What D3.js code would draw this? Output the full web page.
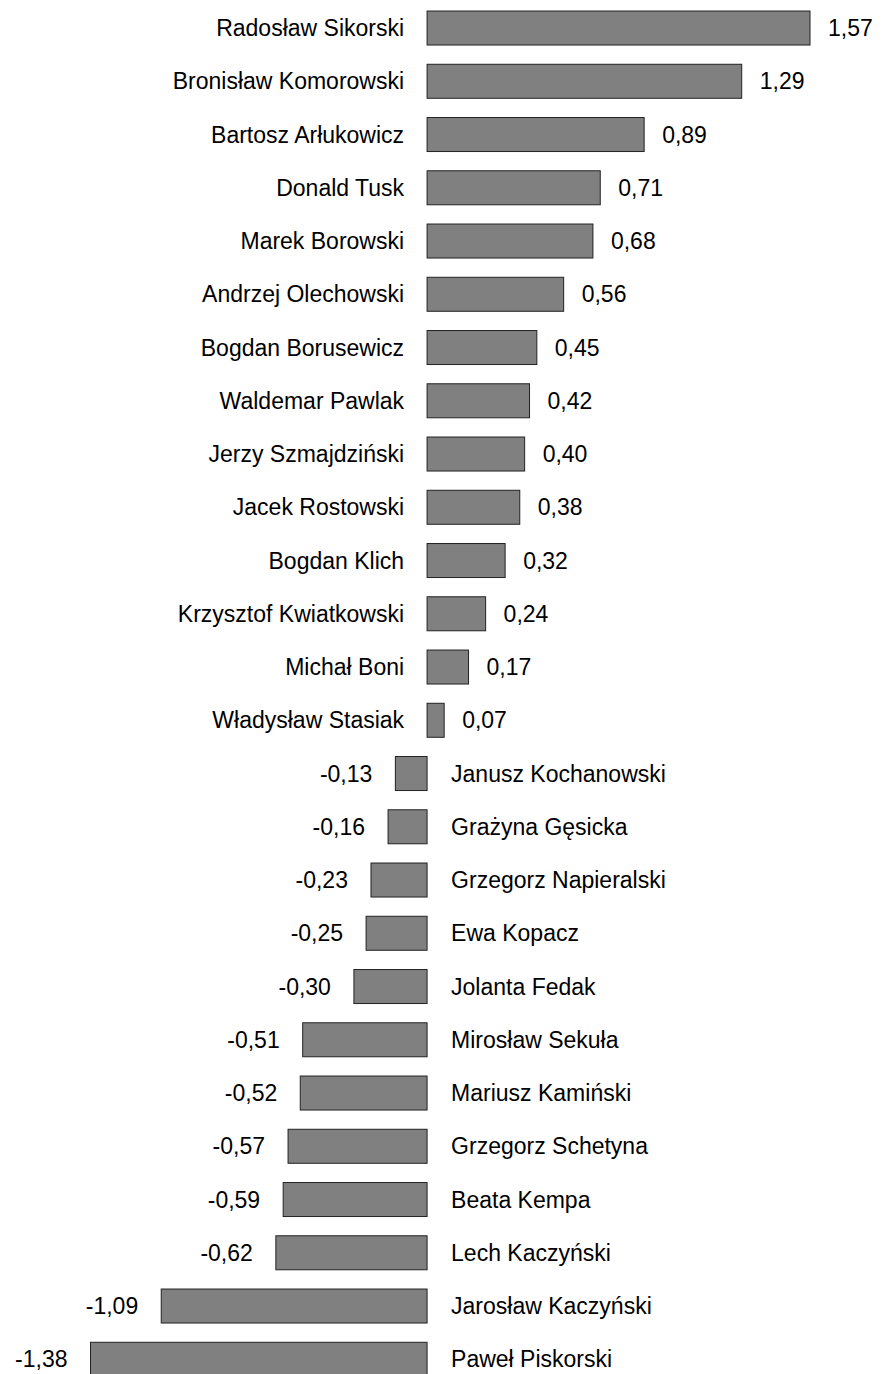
<!DOCTYPE html>
<html>
<head>
<meta charset="utf-8">
<script src="https://cdn.jsdelivr.net/npm/d3@7"></script>
<style>
    html, body { margin: 0; padding: 0; background: #ffffff; }
    svg { display: block; }
</style>
</head>
<body>
<div id="chart"></div>
<script>

let names = [
    "Radosław Sikorski", "Bronisław Komorowski", "Bartosz Arłukowicz", "Donald Tusk",
    "Marek Borowski", "Andrzej Olechowski", "Bogdan Borusewicz", "Waldemar Pawlak",
    "Jerzy Szmajdziński", "Jacek Rostowski", "Bogdan Klich", "Krzysztof Kwiatkowski",
    "Michał Boni", "Władysław Stasiak", "Janusz Kochanowski", "Grażyna Gęsicka",
    "Grzegorz Napieralski", "Ewa Kopacz", "Jolanta Fedak", "Mirosław Sekuła",
    "Mariusz Kamiński", "Grzegorz Schetyna", "Beata Kempa", "Lech Kaczyński",
    "Jarosław Kaczyński", "Paweł Piskorski"
];

let values = [
    1.57, 1.29, 0.89, 0.71, 0.68, 0.56, 0.45, 0.42, 0.40, 0.38, 0.32, 0.24, 0.17, 0.07,
    -0.13, -0.16, -0.23, -0.25, -0.30, -0.51, -0.52, -0.57, -0.59, -0.62, -1.09, -1.38
];

function renderChart() {

    let width = 882;
    let height = 1374;
    let step = 53.25;
    let fontSize = 23;
    let fontFamily = "'Liberation Sans', Arial, sans-serif";

    let rows = names.map((name, i) => ({ name, value: values[i] }));

    let x = d3.scaleLinear()
        .domain([d3.min(values), d3.max(values)])
        .range([90.5, 810]);

    let y = d3.scaleBand()
        .domain(names)
        .range([1.4, 1.4 + names.length * step])
        .paddingInner(0.3615)
        .paddingOuter(0.3615 / 2);

    let fmt = v => d3.format(".2f")(v).replace(".", ",").replace("−", "-");

    let svg = d3.select("#chart").append("svg")
        .attr("width", width)
        .attr("height", height);

    let rowsG = svg.append("g")
        .selectAll("g")
        .data(rows)
        .join("g");

    rowsG.append("rect")
        .attr("x", d => x(Math.min(0, d.value)))
        .attr("y", d => y(d.name))
        .attr("width", d => Math.abs(x(d.value) - x(0)))
        .attr("height", y.bandwidth())
        .attr("fill", "#808080")
        .attr("stroke", "#222")
        .attr("stroke-width", 1);

    // names on the opposite side of the zero line
    rowsG.append("text")
        .attr("x", d => d.value >= 0 ? x(0) - 23 : x(0) + 24)
        .attr("y", d => y(d.name) + y.bandwidth() / 2)
        .attr("dy", "0.35em")
        .attr("text-anchor", d => d.value >= 0 ? "end" : "start")
        .attr("font-family", fontFamily)
        .attr("font-size", fontSize)
        .attr("fill", "#000")
        .text(d => d.name);

    // value labels at bar ends
    rowsG.append("text")
        .attr("x", d => d.value >= 0 ? x(d.value) + 18 : x(d.value) - 23)
        .attr("y", d => y(d.name) + y.bandwidth() / 2)
        .attr("dy", "0.35em")
        .attr("text-anchor", d => d.value >= 0 ? "start" : "end")
        .attr("font-family", fontFamily)
        .attr("font-size", fontSize)
        .attr("fill", "#000")
        .text(d => fmt(d.value));
}

renderChart();
</script>
</body>
</html>
